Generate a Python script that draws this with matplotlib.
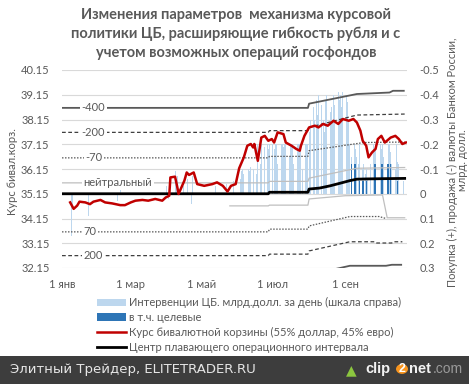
import matplotlib
matplotlib.use('Agg')
import matplotlib.pyplot as plt
import matplotlib.dates as mdates
import pandas as pd
from matplotlib.patches import Rectangle, Patch, Circle
from matplotlib.lines import Line2D

plt.rcParams['font.family'] = ['Lato', 'DejaVu Sans']

# ---------------- data ----------------
basket_dates = ['2013-01-08','2013-01-11','2013-01-14','2013-01-16','2013-01-21','2013-01-25','2013-01-28',
                '2013-02-03','2013-02-07','2013-02-13','2013-02-20','2013-02-24','2013-03-01','2013-03-05',
                '2013-03-11','2013-03-16','2013-03-22','2013-03-28','2013-03-31','2013-04-03','2013-04-04',
                '2013-04-08','2013-04-10','2013-04-11','2013-04-16','2013-04-18','2013-04-20','2013-04-24',
                '2013-04-27','2013-05-03','2013-05-10','2013-05-14','2013-05-19','2013-05-23','2013-05-26',
                '2013-05-30','2013-06-02','2013-06-06','2013-06-09','2013-06-12','2013-06-14','2013-06-15',
                '2013-06-18','2013-06-21','2013-06-24','2013-06-27','2013-06-30','2013-07-02','2013-07-05',
                '2013-07-10','2013-07-12','2013-07-17','2013-07-21','2013-07-24','2013-07-25','2013-07-28',
                '2013-08-01','2013-08-06','2013-08-09','2013-08-13','2013-08-17','2013-08-22','2013-08-26',
                '2013-08-30','2013-09-04','2013-09-08','2013-09-11','2013-09-14','2013-09-16','2013-09-19',
                '2013-09-21','2013-09-24','2013-09-27','2013-09-29','2013-10-02','2013-10-05','2013-10-10',
                '2013-10-14','2013-10-17','2013-10-20','2013-10-23']
basket_vals = [34.80,34.54,34.67,34.83,34.80,34.73,34.83,
               34.90,34.80,34.76,34.69,34.69,34.80,34.87,
               34.90,34.87,34.94,34.87,35.00,35.07,35.81,
               35.84,35.40,35.14,35.68,36.01,35.91,36.01,
               35.54,35.47,35.54,35.61,35.47,35.24,35.47,
               35.54,36.18,36.62,37.09,37.16,37.02,37.16,
               36.48,37.42,37.49,37.29,37.36,37.22,37.63,
               37.56,37.22,37.09,36.96,36.89,37.09,37.49,
               37.83,37.90,37.83,37.97,37.90,38.10,37.97,
               38.17,38.10,38.17,38.03,37.70,37.29,37.09,
               36.62,36.82,36.96,37.36,37.49,37.22,37.42,
               37.49,37.36,37.16,37.22]

center_dates = ['2013-01-01','2013-06-27','2013-06-28','2013-07-31','2013-08-01','2013-08-10','2013-08-19',
                '2013-08-28','2013-09-05','2013-09-11','2013-09-20','2013-10-05','2013-10-22']
center_vals = [35.15,35.15,35.21,35.21,35.34,35.38,35.47,35.58,35.68,35.74,35.75,35.76,35.77]

up400_dates = ['2013-01-01','2013-07-31','2013-08-01','2013-09-11','2013-10-09','2013-10-12','2013-10-22']
up400_vals = [38.62,38.62,38.79,39.18,39.24,39.31,39.31]
up200_dates = ['2013-01-01','2013-06-27','2013-06-28','2013-07-31','2013-08-01','2013-09-11','2013-10-22']
up200_vals = [37.63,37.63,37.70,37.70,37.83,38.33,38.37]
up70_dates = ['2013-01-01','2013-06-27','2013-06-28','2013-07-31','2013-08-01','2013-09-17','2013-10-22']
up70_vals = [36.60,36.60,36.66,36.66,36.89,37.22,37.24]
neu_up_dates = ['2013-01-01','2013-06-27','2013-06-28','2013-07-31','2013-08-01','2013-09-11','2013-10-22']
neu_up_vals = [35.59,35.59,35.65,35.65,35.78,36.18,36.21]
neu_lo_dates = ['2013-05-25','2013-06-27','2013-06-28','2013-07-31','2013-08-01','2013-09-01','2013-10-03',
                '2013-10-07','2013-10-22']
neu_lo_vals = [34.66,34.66,34.69,34.69,34.94,35.07,35.10,34.18,34.18]
lo70_dates = ['2013-01-01','2013-06-27','2013-06-28','2013-07-31','2013-08-01','2013-09-05','2013-09-30','2013-10-06']
lo70_vals = [33.61,33.61,33.72,33.72,33.85,34.23,34.23,34.15]
lo200_dates = ['2013-01-01','2013-06-27','2013-06-28','2013-07-31','2013-08-01','2013-09-05','2013-09-27',
               '2013-09-28','2013-10-11','2013-10-12','2013-10-20']
lo200_vals = [32.65,32.65,32.71,32.71,32.84,33.21,33.21,33.16,33.16,33.21,33.21]
lo400_dates = ['2013-01-01','2013-06-27','2013-06-28','2013-07-31','2013-08-01','2013-09-05','2013-10-06',
               '2013-10-11','2013-10-19']
lo400_vals = [31.68,31.68,31.74,31.74,31.87,32.24,32.24,32.28,32.28]

# interventions, bn USD per day (negative = sale)
interv_early_dates = ['2013-01-09','2013-01-10','2013-01-24','2013-02-18','2013-02-20','2013-04-01','2013-04-02',
                      '2013-04-08','2013-04-09','2013-04-10','2013-04-15','2013-04-19','2013-04-22','2013-04-23',
                      '2013-05-13','2013-05-22','2013-05-28']
interv_early_vals = [0.17,0.05,0.09,0.03,-0.02,-0.03,0.02,
                     -0.09,-0.05,-0.07,-0.03,-0.06,0.04,-0.07,
                     -0.03,-0.04,-0.05]
interv_jun = [-0.06,-0.09,-0.10,-0.08,-0.12,-0.10,-0.09,-0.11,-0.07,-0.10,
              -0.08,-0.20,-0.20,-0.12,-0.20,-0.19,-0.20,-0.20,-0.18,-0.20]
interv_jul = [-0.20,-0.18,-0.20,-0.20,-0.12,-0.20,-0.20,-0.19,-0.20,-0.20,-0.15,-0.20,
              -0.20,-0.20,-0.12,-0.20,-0.20,-0.20,-0.20,-0.10,-0.20,-0.20,-0.20]
interv_aug = [-0.25,-0.30,-0.35,-0.30,-0.38,-0.32,-0.40,-0.36,-0.30,-0.25,-0.38,
              -0.40,-0.33,-0.35,-0.30,-0.40,-0.36,-0.41,-0.38,-0.40,-0.35,-0.41]
interv_sep = [-0.40,-0.37,-0.30,-0.20,-0.15,-0.20,-0.18,-0.15,-0.12,-0.20,
              -0.10,-0.12,-0.08,-0.10,-0.06,-0.12,-0.15,-0.20,-0.18,-0.20,-0.20]
interv_oct = [-0.20,-0.18,-0.20,-0.15,-0.12,-0.20,-0.20,-0.17,-0.12,-0.10,-0.20,-0.13,-0.12,-0.10,-0.05]

target_dates = ['2013-09-06','2013-09-09','2013-09-10','2013-09-13','2013-09-16','2013-09-17','2013-09-19',
                '2013-09-26','2013-09-27','2013-10-02','2013-10-03','2013-10-07','2013-10-08','2013-10-10',
                '2013-10-16']
target_vals = [-0.12,-0.12,-0.12,-0.05,-0.05,-0.05,-0.05,
               -0.12,-0.12,-0.12,-0.12,-0.12,-0.12,-0.12,-0.05]

left_ticks = [32.15,33.15,34.15,35.15,36.15,37.15,38.15,39.15,40.15]
right_ticks = [-0.5,-0.4,-0.3,-0.2,-0.1,0,0.1,0.2,0.3]
right_labels = ['-0.5','-0.4','-0.3','-0.2','-0.1','0','0.1','0.2','0.3']
xtick_dates = ['2013-01-01','2013-03-01','2013-05-01','2013-07-01','2013-09-01']
xtick_labels = ['1 янв','1 мар','1 май','1 июл','1 сен']

title = 'Изменения параметров  механизма курсовой\nполитики ЦБ, расширяющие гибкость рубля и с\nучетом возможных операций госфондов'
legend_labels = ['Интервенции ЦБ. млрд.долл. за день (шкала справа)', 'в т.ч. целевые',
                 'Курс бивалютной корзины (55% доллар, 45% евро)', 'Центр плавающего операционного интервала']

# ---------------- figure ----------------
W, H = 469, 384
fig = plt.figure(figsize=(W/100, H/100), dpi=100)
def fx(x): return x / W
def fy(y): return 1 - y / H

ax = fig.add_axes([fx(62), fy(268), (407-62)/W, (268-70)/H])
ax2 = ax.twinx()
ax.set_zorder(ax2.get_zorder() + 1)
ax.patch.set_visible(False)

D = pd.to_datetime
gray = '#595959'

# bars on right axis
idates = list(D(interv_early_dates))
ivals = list(interv_early_vals)
for start, vals in [('2013-06-03', interv_jun), ('2013-07-01', interv_jul), ('2013-08-01', interv_aug),
                    ('2013-09-02', interv_sep), ('2013-10-01', interv_oct)]:
    idates += list(pd.bdate_range(start, periods=len(vals)))
    ivals += list(vals)
ax2.bar(idates, ivals, width=0.8, color='#bdd7ee', linewidth=0, zorder=2)
ax2.bar(D(target_dates), target_vals, width=0.8, color='#2e75b6', linewidth=0, zorder=3)
ax2.set_ylim(0.3, -0.5)
ax2.set_yticks(right_ticks)
ax2.set_yticklabels(right_labels)
ax2.grid(True, color='#d9d9d9', linewidth=0.8, zorder=0)
ax2.set_axisbelow(True)

# lines on left axis
ax.plot(D(up400_dates), up400_vals, color='#595959', lw=1.3, solid_capstyle='butt')
ax.plot(D(lo400_dates), lo400_vals, color='#595959', lw=1.3)
ax.plot(D(up200_dates), up200_vals, color='#404040', lw=0.9, dashes=(3, 2))
ax.plot(D(lo200_dates), lo200_vals, color='#404040', lw=0.9, dashes=(3, 2))
ax.plot(D(up70_dates), up70_vals, color='#595959', lw=0.9, dashes=(1.2, 1.2))
ax.plot(D(lo70_dates), lo70_vals, color='#595959', lw=0.9, dashes=(1.2, 1.2))
ax.plot(D(neu_up_dates), neu_up_vals, color='#bfbfbf', lw=0.9)
ax.plot(D(neu_lo_dates), neu_lo_vals, color='#bfbfbf', lw=0.9)
ax.plot(D(center_dates), center_vals, color='black', lw=2.0)
ax.plot(D(basket_dates), basket_vals, color='#c00000', lw=1.8)

lab_kw = dict(fontsize=8, color=gray, ha='center', va='center',
              bbox=dict(facecolor='white', edgecolor='none', pad=1.0), zorder=5)
ax.text(D('2013-01-28'), up400_vals[0], '-400', **lab_kw)
ax.text(D('2013-01-28'), up200_vals[0], '-200', **lab_kw)
ax.text(D('2013-01-28'), up70_vals[0], '-70', **lab_kw)
ax.text(D('2013-02-18'), neu_up_vals[0], 'нейтральный', **lab_kw)
ax.text(D('2013-01-25'), lo70_vals[0], '70', **lab_kw)
ax.text(D('2013-01-28'), lo200_vals[0], '200', **lab_kw)

ax.set_ylim(32.15, 40.15)
ax.set_yticks(left_ticks)
ax.set_yticklabels([f'{v:.2f}' for v in left_ticks])
ax.set_xlim(D('2013-01-01'), D('2013-10-24'))
ax.set_xticks(D(xtick_dates))
ax.set_xticklabels(xtick_labels)

for a in (ax, ax2):
    for s in a.spines.values():
        s.set_visible(False)
    a.tick_params(length=0, labelsize=8, labelcolor=gray)
ax.tick_params(axis='y', pad=9)
ax.tick_params(axis='x', pad=8)
ax2.tick_params(axis='y', pad=9)

# axis titles
fig.text(fx(13), fy(172), 'Курс бивал.корз.', rotation=90, ha='center', va='center', fontsize=8, color=gray)
fig.text(fx(452), fy(162), 'Покупка (+), продажа (-) валюты Банком России,', rotation=90,
         ha='center', va='center', fontsize=8, color=gray)
fig.text(fx(462), fy(160), 'млрд. долл.', rotation=90, ha='center', va='center', fontsize=8, color=gray)

# title
fig.text(fx(236), fy(34), title, ha='center', va='center', fontsize=10.5, fontweight='bold',
         color=gray, linespacing=1.45)

# legend
handles = [Patch(facecolor='#bdd7ee', edgecolor='none'), Patch(facecolor='#2e75b6', edgecolor='none'),
           Line2D([], [], color='#c00000', lw=1.8), Line2D([], [], color='black', lw=2.0)]
fig.legend(handles, legend_labels, loc='upper left', bbox_to_anchor=(fx(97), fy(297)), frameon=False,
           fontsize=8, labelcolor=gray, handlelength=2.6, handleheight=0.6, handletextpad=0.3,
           labelspacing=0.35, borderaxespad=0, borderpad=0)

# bottom banner
fig.patches.append(Rectangle((0, 0), 1, 28/H, transform=fig.transFigure, facecolor='#3d3d3d',
                             edgecolor='none', zorder=0))
fig.text(fx(10), fy(370), 'Элитный Трейдер, ELITETRADER.RU', ha='left', va='center', fontsize=9.5,
         color='#e6e6e6', family='DejaVu Sans')
fig.text(fx(346), fy(370), '▲', ha='left', va='center', fontsize=10, color='#8cc63f', family='DejaVu Sans')
fig.text(fx(365), fy(369), 'clip', ha='left', va='center', fontsize=10.5, fontweight='bold',
         color='#f2f2f2', family='Liberation Sans')
fig.patches.append(Circle((fx(402), fy(369)), 6/W, transform=fig.transFigure, facecolor='#f7941d',
                          edgecolor='none', zorder=1))
fig.text(fx(402), fy(369), '2', ha='center', va='center', fontsize=9, fontweight='bold',
         color='white', family='Liberation Sans', zorder=3)
fig.text(fx(409), fy(369), 'net', ha='left', va='center', fontsize=10.5, fontweight='bold',
         color='#f2f2f2', family='Liberation Sans')
fig.text(fx(433), fy(369), '.com', ha='left', va='center', fontsize=10, fontweight='normal',
         color='#9a9a9a', family='Liberation Sans')

fig.savefig('out.png', dpi=100)
